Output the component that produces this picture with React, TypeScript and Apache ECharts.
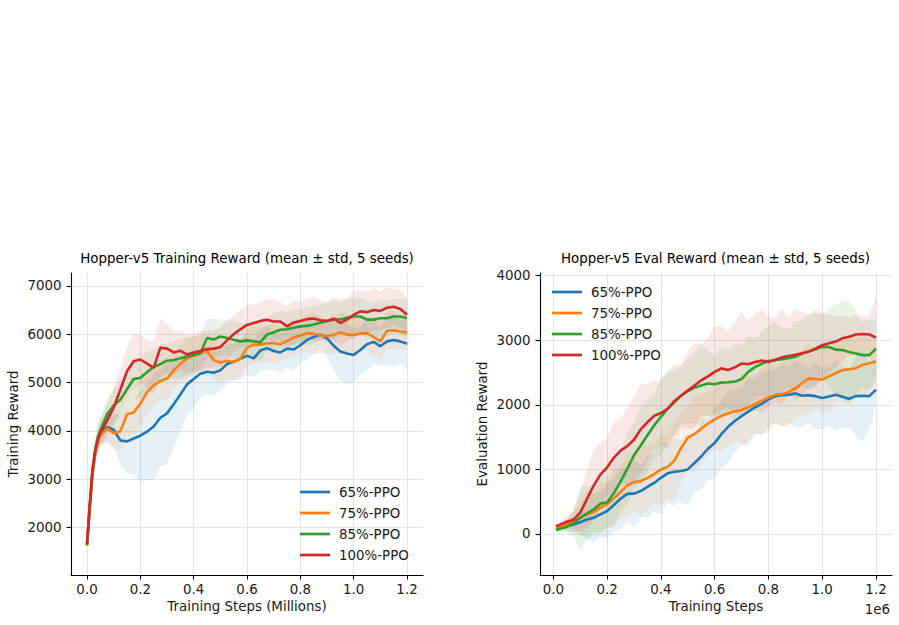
import React, { useEffect, useRef } from 'react';
import * as echarts from 'echarts';

// ---------- data ----------
const seriesNames = ['65%-PPO', '75%-PPO', '85%-PPO', '100%-PPO'];
const seriesColors = ['#1f77b4', '#ff7f0e', '#2ca02c', '#d62728'];
const bandColors = ['rgba(31,119,180,0.11)', 'rgba(255,127,14,0.11)', 'rgba(44,160,44,0.11)', 'rgba(214,39,40,0.11)'];

// training steps (millions)
const trainSteps = [0, 0.01, 0.02, 0.03, 0.04, 0.05, 0.075, 0.1, 0.125, 0.15, 0.175, 0.2, 0.225, 0.25, 0.275, 0.3, 0.325, 0.35, 0.375, 0.4, 0.425, 0.45, 0.475, 0.5, 0.525, 0.55, 0.575, 0.6, 0.625, 0.65, 0.675, 0.7, 0.725, 0.75, 0.775, 0.8, 0.825, 0.85, 0.875, 0.9, 0.925, 0.95, 0.975, 1.0, 1.025, 1.05, 1.075, 1.1, 1.125, 1.15, 1.175, 1.2];
const train65 = [1650, 2400, 3100, 3550, 3800, 3930, 4080, 4020, 3800, 3780, 3840, 3900, 3980, 4090, 4270, 4360, 4550, 4750, 4960, 5070, 5180, 5220, 5200, 5250, 5380, 5430, 5490, 5550, 5500, 5660, 5710, 5650, 5620, 5700, 5680, 5770, 5880, 5940, 5990, 5910, 5760, 5640, 5600, 5570, 5670, 5790, 5840, 5750, 5850, 5880, 5850, 5800];
const train75 = [1620, 2350, 3050, 3500, 3760, 3900, 4050, 3950, 3990, 4340, 4380, 4560, 4800, 4940, 5030, 5080, 5250, 5380, 5500, 5550, 5600, 5660, 5460, 5410, 5450, 5420, 5490, 5720, 5780, 5780, 5810, 5810, 5790, 5860, 5930, 5970, 6020, 6010, 5975, 5960, 5985, 6040, 5990, 5980, 6015, 6020, 5940, 5850, 6070, 6080, 6055, 6035];
const train85 = [1640, 2420, 3150, 3600, 3850, 4000, 4340, 4520, 4640, 4860, 5070, 5095, 5210, 5320, 5380, 5450, 5465, 5500, 5535, 5570, 5605, 5920, 5890, 5950, 5920, 5885, 5850, 5870, 5850, 5830, 5990, 6040, 6090, 6100, 6130, 6160, 6170, 6200, 6235, 6270, 6300, 6305, 6340, 6365, 6365, 6300, 6300, 6330, 6330, 6365, 6365, 6330];
const train100 = [1650, 2450, 3150, 3550, 3800, 3960, 4210, 4480, 4850, 5230, 5440, 5475, 5390, 5300, 5720, 5700, 5620, 5655, 5580, 5620, 5650, 5690, 5700, 5730, 5870, 6000, 6100, 6190, 6230, 6270, 6300, 6260, 6260, 6160, 6240, 6270, 6310, 6325, 6285, 6270, 6320, 6230, 6300, 6400, 6470, 6455, 6500, 6480, 6545, 6565, 6520, 6400];
const trainStd65 = [50, 150, 200, 200, 200, 220, 300, 350, 500, 650, 750, 950, 1000, 1100, 1000, 1050, 900, 750, 650, 600, 500, 450, 480, 420, 400, 380, 420, 400, 380, 420, 450, 380, 420, 400, 450, 380, 400, 350, 300, 380, 500, 600, 650, 550, 500, 550, 450, 400, 500, 550, 450, 500];
const trainStd75 = [40, 150, 200, 200, 220, 250, 300, 350, 400, 450, 500, 450, 500, 450, 400, 450, 400, 380, 420, 400, 380, 350, 400, 420, 380, 400, 350, 380, 400, 350, 380, 420, 350, 380, 400, 350, 380, 420, 380, 350, 400, 380, 420, 400, 380, 350, 400, 420, 380, 400, 350, 380];
const trainStd85 = [40, 150, 200, 220, 250, 280, 320, 350, 380, 420, 450, 400, 420, 380, 400, 350, 380, 420, 400, 380, 350, 400, 420, 380, 350, 400, 380, 350, 400, 380, 350, 380, 400, 350, 380, 350, 400, 380, 350, 380, 400, 350, 380, 350, 400, 380, 350, 400, 380, 350, 380, 400];
const trainStd100 = [50, 150, 200, 220, 250, 280, 320, 380, 450, 500, 550, 520, 480, 550, 600, 500, 450, 420, 400, 380, 420, 400, 380, 400, 420, 380, 400, 420, 380, 400, 420, 450, 400, 420, 450, 400, 420, 450, 420, 400, 450, 480, 450, 480, 450, 420, 450, 400, 420, 380, 400, 350];

// evaluation steps (raw)
const evalSteps = [10000, 25000, 50000, 75000, 100000, 125000, 150000, 175000, 200000, 225000, 250000, 275000, 300000, 325000, 350000, 375000, 400000, 425000, 450000, 475000, 500000, 525000, 550000, 575000, 600000, 625000, 650000, 675000, 700000, 725000, 750000, 775000, 800000, 825000, 850000, 875000, 900000, 925000, 950000, 975000, 1000000, 1025000, 1050000, 1075000, 1100000, 1125000, 1150000, 1175000, 1200000];
const eval65 = [75, 93, 120, 147, 183, 224, 250, 303, 355, 450, 545, 622, 625, 665, 730, 790, 870, 940, 965, 975, 1000, 1100, 1200, 1320, 1410, 1545, 1660, 1750, 1825, 1895, 1960, 2015, 2085, 2135, 2150, 2157, 2178, 2140, 2150, 2135, 2105, 2130, 2155, 2125, 2095, 2135, 2140, 2135, 2235];
const eval75 = [77, 108, 145, 198, 252, 303, 340, 407, 458, 552, 650, 750, 805, 820, 870, 925, 1000, 1040, 1135, 1330, 1490, 1550, 1630, 1710, 1775, 1830, 1865, 1900, 1920, 1960, 2010, 2065, 2115, 2155, 2165, 2200, 2255, 2335, 2410, 2400, 2390, 2440, 2490, 2540, 2550, 2568, 2620, 2645, 2670];
const eval85 = [60, 80, 110, 165, 250, 320, 380, 470, 490, 630, 810, 1010, 1220, 1370, 1530, 1680, 1815, 1940, 2040, 2140, 2215, 2265, 2300, 2330, 2320, 2345, 2350, 2360, 2400, 2510, 2585, 2635, 2680, 2690, 2705, 2722, 2745, 2795, 2825, 2860, 2900, 2895, 2855, 2850, 2820, 2795, 2770, 2770, 2870];
const eval100 = [120, 145, 190, 222, 330, 540, 750, 920, 1030, 1180, 1290, 1360, 1460, 1620, 1730, 1830, 1874, 1940, 2060, 2140, 2220, 2300, 2380, 2440, 2510, 2565, 2540, 2580, 2640, 2630, 2665, 2685, 2665, 2700, 2735, 2757, 2775, 2800, 2825, 2870, 2925, 2955, 2980, 3030, 3055, 3090, 3098, 3090, 3040];
const evalStd65 = [30, 50, 80, 120, 200, 300, 380, 350, 420, 400, 480, 420, 520, 400, 480, 450, 560, 450, 520, 480, 560, 450, 520, 480, 560, 520, 560, 480, 450, 520, 420, 480, 450, 400, 480, 430, 520, 480, 420, 520, 480, 450, 560, 480, 450, 620, 720, 520, 250];
const evalStd75 = [30, 50, 80, 150, 250, 350, 300, 400, 350, 450, 400, 500, 450, 550, 500, 450, 550, 500, 600, 550, 500, 600, 550, 500, 450, 550, 500, 450, 550, 500, 450, 500, 550, 450, 500, 550, 450, 500, 550, 450, 500, 550, 450, 500, 550, 450, 500, 400, 350];
const evalStd85 = [30, 50, 90, 200, 500, 420, 380, 450, 400, 500, 450, 550, 500, 600, 550, 500, 600, 550, 500, 450, 500, 550, 650, 500, 450, 550, 500, 600, 500, 550, 450, 500, 550, 600, 500, 450, 550, 500, 600, 550, 500, 600, 700, 750, 800, 650, 500, 550, 450];
const evalStd100 = [30, 50, 90, 150, 300, 450, 550, 500, 450, 550, 500, 600, 650, 700, 600, 550, 500, 600, 550, 500, 600, 650, 550, 600, 700, 650, 600, 700, 800, 650, 750, 800, 700, 650, 750, 600, 700, 650, 550, 600, 500, 450, 400, 350, 300, 300, 280, 300, 650];

const trainXTicks = [0, 0.2, 0.4, 0.6, 0.8, 1.0, 1.2];
const trainYTicks = [2000, 3000, 4000, 5000, 6000, 7000];
const evalXTicks = [0, 200000, 400000, 600000, 800000, 1000000, 1200000];
const evalYTicks = [0, 1000, 2000, 3000, 4000];

const trainTitle = 'Hopper-v5 Training Reward (mean ± std, 5 seeds)';
const evalTitle = 'Hopper-v5 Eval Reward (mean ± std, 5 seeds)';

// ---------- styling ----------
const FONT = '"DejaVu Sans", sans-serif';
const FS = 13.4;
const TXT = '#1a1a1a';

function makeAxis(gridIndex: number, min: number, max: number, ticks: number[], fmt: (v: number) => string, name: string, nameGap: number, margin: number) {
  return {
    gridIndex,
    type: 'value',
    min,
    max,
    axisLine: { show: true, onZero: false, lineStyle: { color: '#000', width: 1.1 } },
    axisTick: { show: true, inside: false, length: 4.5, customValues: ticks, lineStyle: { color: '#000', width: 1.1 } },
    axisLabel: { show: true, customValues: ticks, formatter: fmt, margin, color: TXT, fontFamily: FONT, fontSize: FS },
    splitLine: { show: true, lineStyle: { color: '#e3e3e3', width: 1 } },
    name,
    nameLocation: 'middle',
    nameGap,
    nameTextStyle: { color: TXT, fontFamily: FONT, fontSize: FS },
  };
}

function buildSeries(axisIdx: number, steps: number[], means: number[][], stds: number[][]) {
  const out: any[] = [];
  means.forEach((m, k) => {
    const sd = stds[k];
    const n = steps.length;
    out.push({
      type: 'custom',
      name: seriesNames[k] + ' std' + axisIdx,
      xAxisIndex: axisIdx,
      yAxisIndex: axisIdx,
      silent: true,
      z: 1,
      data: steps.map((x, i) => [x, m[i] - sd[i], m[i] + sd[i]]),
      encode: { x: 0, y: [1, 2] },
      renderItem: (params: any, api: any) => {
        if (params.dataIndex !== 0) return null;
        const upper: number[][] = [];
        const lower: number[][] = [];
        for (let i = 0; i < n; i++) {
          const x = api.value(0, i);
          lower.push(api.coord([x, api.value(1, i)]));
          upper.push(api.coord([x, api.value(2, i)]));
        }
        const pts = lower.concat(upper.reverse());
        return { type: 'polygon', shape: { points: pts }, style: { fill: bandColors[k], stroke: 'none' } };
      },
    });
  });
  means.forEach((m, k) => {
    out.push({
      type: 'line',
      name: seriesNames[k],
      xAxisIndex: axisIdx,
      yAxisIndex: axisIdx,
      data: steps.map((x, i) => [x, m[i]]),
      symbol: 'none',
      showSymbol: false,
      silent: true,
      color: seriesColors[k],
      itemStyle: { color: seriesColors[k] },
      lineStyle: { width: 2.6, color: seriesColors[k] },
      z: 3,
    });
  });
  return out;
}

function legendAt(left: number, top: number) {
  return {
    data: seriesNames,
    left,
    top,
    orient: 'vertical',
    icon: 'rect',
    itemWidth: 30,
    itemHeight: 2.7,
    itemGap: 5,
    padding: 0,
    selectedMode: false,
    textStyle: { color: TXT, fontFamily: FONT, fontSize: FS, lineHeight: 16, padding: [0, 0, 0, 4] },
  };
}

export default function App() {
  const ref = useRef<HTMLDivElement>(null);
  useEffect(() => {
    const chart = echarts.init(ref.current as HTMLDivElement, null, { renderer: 'svg' });
    const option: any = {
      animation: false,
      backgroundColor: '#ffffff',
      grid: [
        { left: 71, top: 273, width: 352, height: 302, outerBoundsMode: 'none', containLabel: false },
        { left: 540, top: 273, width: 352, height: 302, outerBoundsMode: 'none', containLabel: false },
      ],
      xAxis: [
        makeAxis(0, -0.06, 1.26, trainXTicks, (v: number) => v.toFixed(1), 'Training Steps (Millions)', 25, 8),
        makeAxis(1, -49500, 1259500, evalXTicks, (v: number) => (v / 1e6).toFixed(1), 'Training Steps', 25, 8),
      ],
      yAxis: [
        makeAxis(0, 1015, 7265, trainYTicks, (v: number) => String(Math.round(v)), 'Training Reward', 51, 9.5),
        makeAxis(1, -635, 4042, evalYTicks, (v: number) => String(Math.round(v)), 'Evaluation Reward', 51, 9.5),
      ],
      legend: [legendAt(300, 484), legendAt(552, 284)],
      graphic: [
        { type: 'text', x: 247, y: 258, silent: true, style: { text: trainTitle, textAlign: 'center', textVerticalAlign: 'middle', fill: '#000', font: `${FS}px ${FONT}` } },
        { type: 'text', x: 715.5, y: 258, silent: true, style: { text: evalTitle, textAlign: 'center', textVerticalAlign: 'middle', fill: '#000', font: `${FS}px ${FONT}` } },
        { type: 'text', x: 890, y: 609, silent: true, style: { text: '1e6', textAlign: 'right', textVerticalAlign: 'middle', fill: TXT, font: `${FS}px ${FONT}` } },
      ],
      series: [
        ...buildSeries(0, trainSteps, [train65, train75, train85, train100], [trainStd65, trainStd75, trainStd85, trainStd100]),
        ...buildSeries(1, evalSteps, [eval65, eval75, eval85, eval100], [evalStd65, evalStd75, evalStd85, evalStd100]),
      ],
    };
    chart.setOption(option);
    return () => chart.dispose();
  }, []);
  return <div ref={ref} style={{ position: 'fixed', left: 0, top: 0, width: 899, height: 625, background: '#fff' }} />;
}
